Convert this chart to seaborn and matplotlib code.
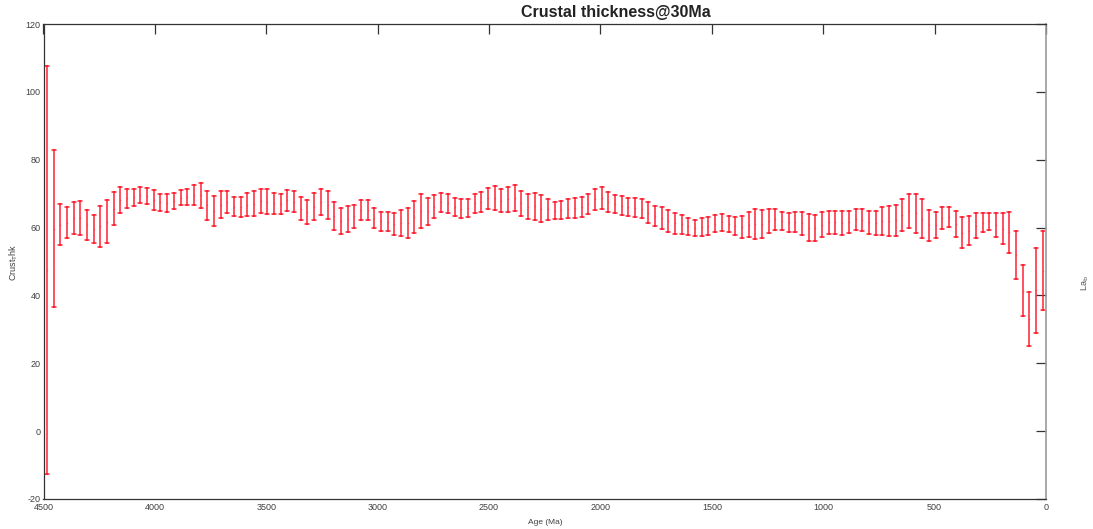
import numpy as np
import pandas as pd
import matplotlib
matplotlib.use("Agg")
import matplotlib.pyplot as plt
import seaborn as sns

# Bin centres (Ma), 30 Ma bins from 4485 down to 15
ages = np.arange(4485, 0, -30)

upper = [107.5, 82.8, 67.0, 66.1, 67.5, 67.7, 65.3, 63.7, 66.5, 68.0,
         70.5, 71.9, 71.5, 71.5, 71.9, 71.6, 71.1, 70.0, 69.9, 70.2,
         71.0, 71.5, 72.6, 73.2, 70.9, 69.2, 70.8, 70.9, 69.1, 68.9,
         70.3, 70.8, 71.4, 71.4, 70.3, 70.0, 71.1, 70.8, 68.9, 68.0,
         70.3, 71.4, 70.7, 67.5, 65.8, 66.5, 66.8, 68.0, 68.0, 65.8,
         64.7, 64.6, 64.4, 65.3, 65.9, 67.7, 69.8, 68.8, 69.5, 70.2,
         70.0, 68.8, 68.5, 68.5, 69.8, 70.4, 71.6, 72.3, 71.3, 71.9,
         72.5, 70.9, 69.8, 70.3, 69.5, 68.5, 67.5, 67.7, 68.5, 68.8,
         69.1, 69.8, 71.3, 71.9, 70.4, 69.5, 69.2, 68.8, 68.6, 68.3,
         67.4, 66.5, 66.2, 65.3, 64.4, 63.8, 62.8, 62.3, 62.7, 63.0,
         63.7, 64.0, 63.3, 63.0, 63.4, 64.7, 65.4, 65.1, 65.4, 65.4,
         64.7, 64.4, 64.7, 64.7, 64.0, 63.6, 64.5, 65.0, 65.0, 65.0,
         65.0, 65.4, 65.4, 65.0, 65.0, 66.2, 66.5, 66.8, 68.5, 70.0,
         70.0, 68.3, 65.3, 64.7, 66.2, 66.2, 65.0, 63.0, 63.3, 64.2,
         64.2, 64.4, 64.2, 64.2, 64.7, 59.0, 49.0, 41.1, 54.0, 58.9]

lower = [-12.5, 36.6, 54.8, 56.8, 58.2, 57.8, 56.2, 55.4, 54.4, 55.5,
         60.7, 64.2, 65.8, 66.5, 67.2, 67.0, 65.1, 64.9, 64.6, 65.5,
         66.7, 66.7, 66.7, 65.8, 62.2, 60.6, 62.7, 64.4, 63.3, 63.0,
         63.3, 63.3, 64.2, 63.9, 63.9, 63.9, 65.0, 64.5, 62.3, 61.1,
         62.1, 63.7, 62.6, 59.4, 58.1, 58.8, 59.9, 62.3, 62.3, 59.8,
         59.1, 58.9, 57.8, 57.6, 56.8, 58.4, 59.8, 60.7, 62.8, 64.7,
         64.4, 63.3, 62.7, 63.0, 64.4, 64.6, 65.6, 65.2, 64.5, 64.7,
         65.0, 63.3, 62.5, 62.2, 61.7, 62.2, 62.5, 62.4, 62.7, 62.9,
         63.2, 63.9, 65.3, 65.5, 64.7, 64.2, 63.6, 63.4, 63.2, 62.7,
         61.4, 60.4, 59.7, 58.8, 58.2, 58.2, 57.9, 57.4, 57.4, 57.8,
         58.7, 59.1, 58.6, 57.8, 56.8, 57.1, 56.5, 56.9, 58.4, 59.4,
         59.4, 58.7, 58.7, 57.8, 56.0, 56.0, 57.1, 58.0, 58.2, 57.8,
         58.4, 59.4, 59.1, 58.1, 57.7, 57.8, 57.5, 57.5, 59.1, 59.8,
         58.4, 57.0, 56.0, 56.8, 59.5, 60.1, 57.3, 53.9, 54.8, 57.0,
         58.7, 59.2, 57.3, 55.1, 52.5, 44.7, 33.9, 25.2, 29.0, 35.6]

xticks = [4500, 4000, 3500, 3000, 2500, 2000, 1500, 1000, 500, 0]
yticks = [-20, 0, 20, 40, 60, 80, 100, 120]

# long-form: two rows per bin (lower & upper bound); mean = midpoint, pi100 = range
df = pd.DataFrame({
    "age": np.concatenate([ages, ages]),
    "thk": np.concatenate([lower, upper]),
})

sns.set_style("white")
plt.rcParams["font.family"] = ["Liberation Sans", "DejaVu Sans"]

fig = plt.figure(figsize=(10.93, 5.29), dpi=100)
ax = fig.add_axes([43.5 / 1093, 30 / 529, 1002.5 / 1093, 475 / 529])

sns.pointplot(data=df, x="age", y="thk", native_scale=True,
              estimator="mean", errorbar=("pi", 100),
              capsize=0.6, linestyle="none", marker="o", markersize=1.0,
              color="#ff1428", err_kws={"linewidth": 1.1, "alpha": 0.95},
              ax=ax)

# make the mean markers tiny and faint, as in the reference
for ln in ax.lines:
    if ln.get_marker() not in (None, "None", "", " "):
        ln.set_markersize(1.2)
        ln.set_markeredgewidth(0)
        ln.set_alpha(0.35)

ax.set_xlim(4500, 0)
ax.set_ylim(-20, 120)
ax.set_xticks(xticks)
ax.set_yticks(yticks)
ax.set_xticklabels([str(t) for t in xticks])
ax.set_yticklabels([str(t) for t in yticks])
ax.tick_params(direction="in", length=7, width=0.9, colors="#333333",
               labelsize=6.5, top=True, right=True, pad=2,
               labelcolor="#404040")
ax.tick_params(axis="x", pad=3)

for side in ["left", "bottom", "top"]:
    ax.spines[side].set_color("#333333")
    ax.spines[side].set_linewidth(0.9)
ax.spines["right"].set_color("#999999")
ax.spines["right"].set_linewidth(1.2)

ax.set_xlabel("")
ax.set_ylabel("")
fig.text(545 / 1093, 1 - 522 / 529, "Age (Ma)", ha="center", va="center",
         fontsize=6, color="#404040")
fig.text(14 / 1093, 1 - 262 / 529, r"Crust$_{\rm T}$hk", ha="center", va="center",
         rotation=90, fontsize=6.5, color="#404040")
fig.text(1085 / 1093, 1 - 283 / 529, r"La$_{\rm b}$", ha="center", va="center",
         rotation=90, fontsize=6.5, color="#555555")
fig.text(616 / 1093, 1 - 13 / 529, "Crustal thickness@30Ma", ha="center",
         va="center", fontsize=11.5, fontweight="bold", color="#222222")

fig.savefig("out.png", dpi=100)
